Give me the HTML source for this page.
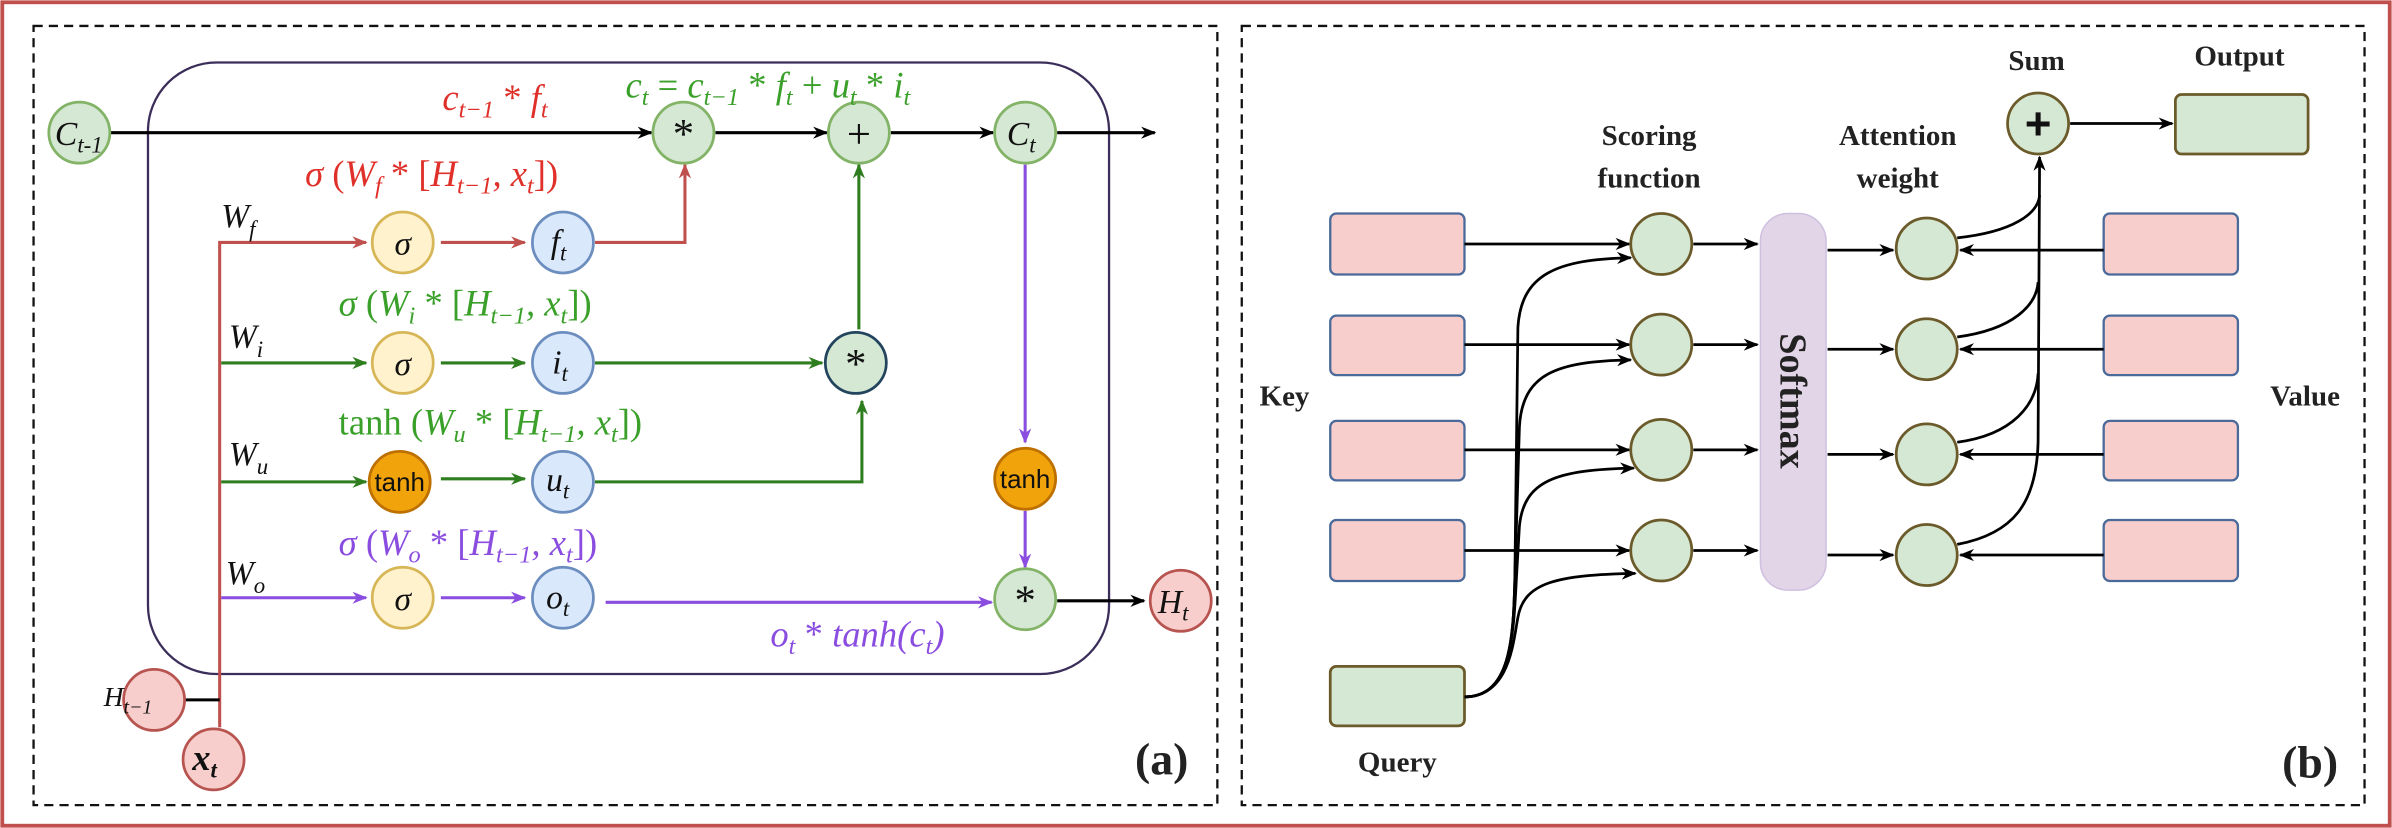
<!DOCTYPE html>
<html><head><meta charset="utf-8"><style>
html,body{margin:0;padding:0;background:#fff;}
svg{display:block;}
.m{font-family:"Liberation Serif",serif;font-style:italic;}
.b{font-family:"Liberation Serif",serif;font-weight:bold;fill:#222;}
</style></head><body>
<svg width="2392" height="828" viewBox="0 0 1568 543" preserveAspectRatio="none" xmlns="http://www.w3.org/2000/svg">
<defs>
<marker id="ak" markerWidth="10" markerHeight="8" refX="9" refY="4" orient="auto" markerUnits="userSpaceOnUse"><path d="M0,0 L10,4 L0,8 L3,4z" fill="#000"/></marker>
<marker id="ar" markerWidth="10" markerHeight="8" refX="9" refY="4" orient="auto" markerUnits="userSpaceOnUse"><path d="M0,0 L10,4 L0,8 L3,4z" fill="#c0504d"/></marker>
<marker id="ag" markerWidth="10" markerHeight="8" refX="9" refY="4" orient="auto" markerUnits="userSpaceOnUse"><path d="M0,0 L10,4 L0,8 L3,4z" fill="#2e7d1e"/></marker>
<marker id="ap" markerWidth="10" markerHeight="8" refX="9" refY="4" orient="auto" markerUnits="userSpaceOnUse"><path d="M0,0 L10,4 L0,8 L3,4z" fill="#8a4de0"/></marker>
</defs>
<rect x="1.5" y="1.5" width="1565" height="540" fill="#fff" stroke="#c0504d" stroke-width="2.5"/>
<rect x="22" y="17" width="776" height="511" fill="none" stroke="#111" stroke-width="1.5" stroke-dasharray="6,4"/>
<rect x="814" y="17" width="736" height="511" fill="none" stroke="#111" stroke-width="1.5" stroke-dasharray="6,4"/>

<!-- LEFT PANEL -->
<rect x="97" y="41" width="630" height="401" rx="45" fill="none" stroke="#3b2e5a" stroke-width="1.5"/>
<g stroke-width="2" fill="none">
<line x1="72" y1="87" x2="427" y2="87" stroke="#000" marker-end="url(#ak)"/>
<line x1="469" y1="87" x2="542" y2="87" stroke="#000" marker-end="url(#ak)"/>
<line x1="584" y1="87" x2="651" y2="87" stroke="#000" marker-end="url(#ak)"/>
<line x1="693" y1="87" x2="757" y2="87" stroke="#000" marker-end="url(#ak)"/>
<polyline points="144,477 144,159 240,159" stroke="#c0504d" marker-end="url(#ar)"/>
<line x1="289" y1="159" x2="344" y2="159" stroke="#c0504d" marker-end="url(#ar)"/>
<polyline points="390,159 449,159 449,108" stroke="#c0504d" marker-end="url(#ar)"/>
<line x1="121" y1="459" x2="144" y2="459" stroke="#000"/>
<line x1="145" y1="238" x2="240" y2="238" stroke="#2e7d1e" marker-end="url(#ag)"/>
<line x1="289" y1="238" x2="344" y2="238" stroke="#2e7d1e" marker-end="url(#ag)"/>
<line x1="390" y1="238" x2="539" y2="238" stroke="#2e7d1e" marker-end="url(#ag)"/>
<line x1="563" y1="216" x2="563" y2="108" stroke="#2e7d1e" marker-end="url(#ag)"/>
<line x1="145" y1="316" x2="240" y2="316" stroke="#2e7d1e" marker-end="url(#ag)"/>
<line x1="289" y1="314" x2="344" y2="314" stroke="#2e7d1e" marker-end="url(#ag)"/>
<polyline points="390,316 565,316 565,263" stroke="#2e7d1e" marker-end="url(#ag)"/>
<line x1="145" y1="392" x2="240" y2="392" stroke="#8a4de0" marker-end="url(#ap)"/>
<line x1="289" y1="392" x2="344" y2="392" stroke="#8a4de0" marker-end="url(#ap)"/>
<line x1="397" y1="395" x2="650" y2="395" stroke="#8a4de0" marker-end="url(#ap)"/>
<line x1="672" y1="108" x2="672" y2="290" stroke="#8a4de0" marker-end="url(#ap)"/>
<line x1="672" y1="335" x2="672" y2="372" stroke="#8a4de0" marker-end="url(#ap)"/>
<line x1="693" y1="394" x2="750" y2="394" stroke="#000" marker-end="url(#ak)"/>
</g>
<g stroke-width="1.8">
<circle cx="52" cy="87" r="20" fill="#d5e8d4" stroke="#82b366"/>
<circle cx="448" cy="87" r="20" fill="#d5e8d4" stroke="#82b366"/>
<circle cx="563" cy="87" r="20" fill="#d5e8d4" stroke="#82b366"/>
<circle cx="672" cy="87" r="20" fill="#d5e8d4" stroke="#82b366"/>
<circle cx="264" cy="159" r="20" fill="#fff2cc" stroke="#d6b656"/>
<circle cx="369" cy="159" r="20" fill="#dae8fc" stroke="#6c8ebf"/>
<circle cx="264" cy="238" r="20" fill="#fff2cc" stroke="#d6b656"/>
<circle cx="369" cy="238" r="20" fill="#dae8fc" stroke="#6c8ebf"/>
<circle cx="561" cy="238" r="20" fill="#d5e8d4" stroke="#23445d"/>
<circle cx="262" cy="316" r="20" fill="#f0a30a" stroke="#bd7000"/>
<circle cx="369" cy="316" r="20" fill="#dae8fc" stroke="#6c8ebf"/>
<circle cx="672" cy="314" r="20" fill="#f0a30a" stroke="#bd7000"/>
<circle cx="264" cy="392" r="20" fill="#fff2cc" stroke="#d6b656"/>
<circle cx="369" cy="392" r="20" fill="#dae8fc" stroke="#6c8ebf"/>
<circle cx="672" cy="393" r="20" fill="#d5e8d4" stroke="#82b366"/>
<circle cx="774" cy="394" r="20" fill="#f8cecc" stroke="#b85450"/>
<circle cx="101" cy="459" r="20" fill="#f8cecc" stroke="#b85450"/>
<circle cx="140" cy="498" r="20" fill="#f8cecc" stroke="#b85450"/>
</g>
<g font-family="Liberation Serif,serif" fill="#111" text-anchor="middle">
<text x="448" y="97" font-size="28">*</text>
<text x="563" y="97" font-size="28">+</text>
<text x="561" y="248" font-size="28">*</text>
<text x="672" y="403" font-size="28">*</text>
<text x="264" y="167" font-size="22" font-style="italic">σ</text>
<text x="264" y="246" font-size="22" font-style="italic">σ</text>
<text x="264" y="400" font-size="22" font-style="italic">σ</text>
<text x="262" y="322" font-size="17" font-family="Liberation Sans,sans-serif">tanh</text>
<text x="672" y="320" font-size="17" font-family="Liberation Sans,sans-serif">tanh</text>
</g>
<g class="m" fill="#111" font-size="22">
<text x="36" y="95">C<tspan font-size="15" dy="5">t-1</tspan></text>
<text x="660" y="95">C<tspan font-size="15" dy="5">t</tspan></text>
<text x="759" y="402">H<tspan font-size="15" dy="5">t</tspan></text>
<text x="361" y="166">f<tspan font-size="15" dy="5">t</tspan></text>
<text x="362" y="245">i<tspan font-size="15" dy="5">t</tspan></text>
<text x="358" y="322">u<tspan font-size="15" dy="5">t</tspan></text>
<text x="358" y="399">o<tspan font-size="15" dy="5">t</tspan></text>
<text x="68" y="463" font-size="18">H<tspan font-size="13" dy="5">t−1</tspan></text>
<text x="126" y="505" font-size="24" font-weight="bold">x<tspan font-size="15" dy="5">t</tspan></text>
<text x="145" y="149">W<tspan font-size="15" dy="6">f</tspan></text>
<text x="150" y="228">W<tspan font-size="15" dy="6">i</tspan></text>
<text x="150" y="305">W<tspan font-size="15" dy="6">u</tspan></text>
<text x="148" y="383">W<tspan font-size="15" dy="6">o</tspan></text>
<text x="290" y="72" fill="#e0302a" font-size="24">c<tspan font-size="16" dy="5">t−1</tspan><tspan dy="-5" font-style="normal"> * </tspan>f<tspan font-size="16" dy="5">t</tspan></text>
<text x="410" y="64" fill="#3aa02a" font-size="24">c<tspan font-size="16" dy="5">t</tspan><tspan dy="-5" font-style="normal"> = </tspan>c<tspan font-size="16" dy="5">t−1</tspan><tspan dy="-5" font-style="normal"> * </tspan>f<tspan font-size="16" dy="5">t</tspan><tspan dy="-5" font-style="normal"> + </tspan>u<tspan font-size="16" dy="5">t</tspan><tspan dy="-5" font-style="normal"> * </tspan>i<tspan font-size="16" dy="5">t</tspan></text>
<text x="200" y="122" fill="#e0302a" font-size="24">σ <tspan font-style="normal">(</tspan>W<tspan font-size="16" dy="5">f</tspan><tspan dy="-5" font-style="normal"> * [</tspan>H<tspan font-size="16" dy="5">t−1</tspan><tspan dy="-5">, x</tspan><tspan font-size="16" dy="5">t</tspan><tspan dy="-5" font-style="normal">])</tspan></text>
<text x="222" y="207" fill="#3aa02a" font-size="24">σ <tspan font-style="normal">(</tspan>W<tspan font-size="16" dy="5">i</tspan><tspan dy="-5" font-style="normal"> * [</tspan>H<tspan font-size="16" dy="5">t−1</tspan><tspan dy="-5">, x</tspan><tspan font-size="16" dy="5">t</tspan><tspan dy="-5" font-style="normal">])</tspan></text>
<text x="222" y="285" fill="#3aa02a" font-size="24"><tspan font-style="normal">tanh (</tspan>W<tspan font-size="16" dy="5">u</tspan><tspan dy="-5" font-style="normal"> * [</tspan>H<tspan font-size="16" dy="5">t−1</tspan><tspan dy="-5">, x</tspan><tspan font-size="16" dy="5">t</tspan><tspan dy="-5" font-style="normal">])</tspan></text>
<text x="222" y="364" fill="#8a4de0" font-size="24">σ <tspan font-style="normal">(</tspan>W<tspan font-size="16" dy="5">o</tspan><tspan dy="-5" font-style="normal"> * [</tspan>H<tspan font-size="16" dy="5">t−1</tspan><tspan dy="-5">, x</tspan><tspan font-size="16" dy="5">t</tspan><tspan dy="-5" font-style="normal">])</tspan></text>
<text x="505" y="424" fill="#8a4de0" font-size="24">o<tspan font-size="16" dy="5">t</tspan><tspan dy="-5" font-style="normal"> * </tspan>tanh(c<tspan font-size="16" dy="5">t</tspan><tspan dy="-5">)</tspan></text>
</g>
<text x="744" y="508" class="b" font-size="30" fill="#111">(a)</text>

<!-- RIGHT PANEL -->
<g fill="#f8cecc" stroke="#4a6a9a" stroke-width="1.5">
<rect x="872" y="140" width="88" height="40" rx="4"/>
<rect x="872" y="207" width="88" height="39" rx="4"/>
<rect x="872" y="276" width="88" height="39" rx="4"/>
<rect x="872" y="341" width="88" height="40" rx="4"/>
<rect x="1379" y="140" width="88" height="40" rx="4"/>
<rect x="1379" y="207" width="88" height="39" rx="4"/>
<rect x="1379" y="276" width="88" height="39" rx="4"/>
<rect x="1379" y="341" width="88" height="40" rx="4"/>
</g>
<g fill="#d5e8d4" stroke="#6b5a2a" stroke-width="1.8">
<rect x="872" y="437" width="88" height="39" rx="4"/>
<rect x="1426" y="62" width="87" height="39" rx="4"/>
</g>
<rect x="1154" y="140" width="43" height="247" rx="18" fill="#e1d5e7" stroke="#d0c0e0" stroke-width="1"/>
<text transform="translate(1167,263) rotate(90)" text-anchor="middle" class="b" font-size="25">Softmax</text>
<g stroke="#000" stroke-width="1.8" fill="none">
<line x1="960" y1="160" x2="1068" y2="160" marker-end="url(#ak)"/>
<line x1="960" y1="226" x2="1068" y2="226" marker-end="url(#ak)"/>
<line x1="960" y1="295" x2="1068" y2="295" marker-end="url(#ak)"/>
<line x1="960" y1="361" x2="1068" y2="361" marker-end="url(#ak)"/>
<path d="M960,457 C990,457 992,420 993,380 L995,215 C997,180 1020,170 1069,169" marker-end="url(#ak)"/>
<path d="M960,457 C990,457 992,420 993,380 L996,280 C998,245 1020,237 1069,236" marker-end="url(#ak)"/>
<path d="M960,457 C990,457 992,420 994,380 L996,345 C999,315 1020,308 1071,307" marker-end="url(#ak)"/>
<path d="M960,457 C990,457 992,420 995,405 C999,382 1020,377 1072,376" marker-end="url(#ak)"/>
<line x1="1110" y1="160" x2="1152" y2="160" marker-end="url(#ak)"/>
<line x1="1110" y1="226" x2="1152" y2="226" marker-end="url(#ak)"/>
<line x1="1110" y1="295" x2="1152" y2="295" marker-end="url(#ak)"/>
<line x1="1110" y1="361" x2="1152" y2="361" marker-end="url(#ak)"/>
<line x1="1198" y1="164" x2="1241" y2="164" marker-end="url(#ak)"/>
<line x1="1198" y1="229" x2="1241" y2="229" marker-end="url(#ak)"/>
<line x1="1198" y1="298" x2="1241" y2="298" marker-end="url(#ak)"/>
<line x1="1198" y1="364" x2="1241" y2="364" marker-end="url(#ak)"/>
<line x1="1379" y1="164" x2="1285" y2="164" marker-end="url(#ak)"/>
<line x1="1379" y1="229" x2="1285" y2="229" marker-end="url(#ak)"/>
<line x1="1379" y1="298" x2="1285" y2="298" marker-end="url(#ak)"/>
<line x1="1379" y1="364" x2="1285" y2="364" marker-end="url(#ak)"/>
<path d="M1283,156 C1320,152 1336,140 1337,128"/>
<path d="M1283,221 C1320,216 1335,200 1336,185"/>
<path d="M1283,290 C1320,285 1335,265 1336,245"/>
<path d="M1283,357 C1320,350 1335,330 1336,290 L1337,103" marker-end="url(#ak)"/>
<line x1="1357" y1="81" x2="1424" y2="81" marker-end="url(#ak)"/>
</g>
<g fill="#d5e8d4" stroke="#6b5a2a" stroke-width="1.8">
<circle cx="1089" cy="160" r="20"/><circle cx="1089" cy="226" r="20"/><circle cx="1089" cy="295" r="20"/><circle cx="1089" cy="361" r="20"/>
<circle cx="1263" cy="163" r="20"/><circle cx="1263" cy="229" r="20"/><circle cx="1263" cy="298" r="20"/><circle cx="1263" cy="364" r="20"/>
<circle cx="1336" cy="81" r="20"/>
</g>
<text x="1336" y="91" text-anchor="middle" font-family="Liberation Sans,sans-serif" font-weight="bold" font-size="30" fill="#111">+</text>
<g class="b" font-size="19" text-anchor="middle">
<text x="1081" y="95">Scoring</text><text x="1081" y="123">function</text>
<text x="1244" y="95">Attention</text><text x="1244" y="123">weight</text>
<text x="1335" y="46">Sum</text>
<text x="1468" y="43">Output</text>
<text x="842" y="266">Key</text>
<text x="1511" y="266">Value</text>
<text x="916" y="506">Query</text>
</g>
<text x="1496" y="510" class="b" font-size="30" fill="#111">(b)</text>
</svg>
</body></html>
